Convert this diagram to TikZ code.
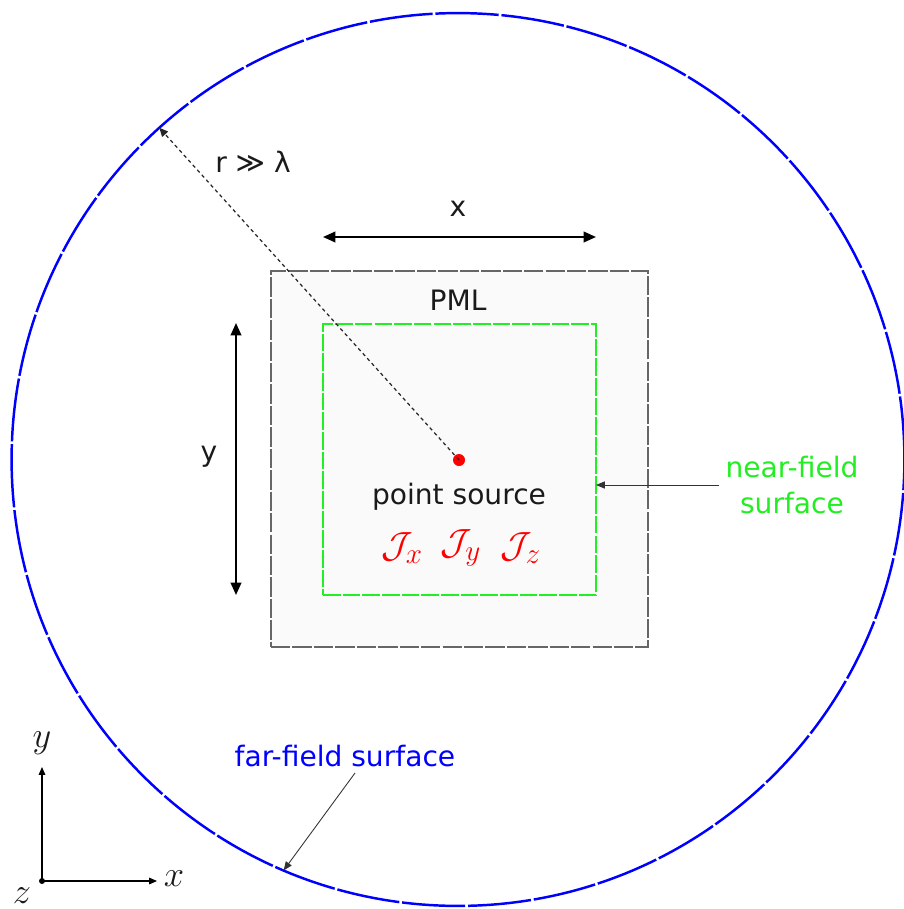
\documentclass[tikz,border=0pt]{standalone}
\usepackage{fontspec}
\setmainfont{DejaVu Sans}
\usepackage{amsmath,amssymb}
\usetikzlibrary{calc,positioning,arrows.meta}
\definecolor{ffblue}{HTML}{0000FF}
\definecolor{nfgreen}{HTML}{22EE22}
\definecolor{srcred}{HTML}{FF0000}
\definecolor{pmlgray}{HTML}{666666}
\definecolor{pmlfill}{HTML}{FAFAFA}
\definecolor{txt}{HTML}{1A1A1A}
\newcommand{\Jcomp}[1]{\mathcal{J}_{\scalebox{0.8}{$#1$}}}

\begin{document}
\begin{tikzpicture}[
      x=0.02cm, y=-0.02cm,
      every node/.style={font=\fontsize{16}{20}\selectfont, text=txt},
      farfield/.style={
        circle, draw=ffblue, line width=1.4pt,
        dash pattern=on 36pt off 1.6pt,
        minimum size=17.86cm, inner sep=0pt, outer sep=0pt
      },
      pml/.style={
        rectangle, draw=pmlgray, fill=pmlfill, line width=1.2pt,
        dash pattern=on 11pt off 1.2pt,
        minimum width=7.54cm, minimum height=7.52cm,
        inner sep=0pt, outer sep=0pt
      },
      nearfield/.style={
        rectangle, draw=nfgreen, line width=0.9pt,
        dash pattern=on 10pt off 1.2pt,
        minimum width=5.46cm, minimum height=5.42cm,
        inner sep=0pt, outer sep=0pt
      },
      srcdot/.style={circle, fill=srcred, minimum size=0.24cm, inner sep=0pt},
      odot/.style={circle, fill=black, minimum size=0.12cm, inner sep=0pt},
      jlabel/.style={text=srcred, font=\fontsize{21}{24}\selectfont, inner sep=1pt},
      dim/.style={{Triangle[length=7pt,width=6pt]}-{Triangle[length=7pt,width=6pt]}, line width=1.1pt},
      pointer/.style={-{Triangle[length=5pt,width=4pt]}, line width=0.5pt, draw=black!80},
      rline/.style={-{Triangle[length=5pt,width=4.5pt]}, line width=0.7pt, dash pattern=on 2pt off 1.8pt, draw=black!85},
      axis/.style={-{Triangle[length=4.5pt,width=3.8pt]}, line width=0.6pt},
      axlabel/.style={font=\fontsize{22}{24}\selectfont, inner sep=0pt}
    ]
      \useasboundingbox (0,0) rectangle (903,909);

      % surfaces
      \node[farfield] (ff) at (458,459.5) {};
      \node[pml] (pml) at (459.5,459) {};
      \node[nearfield] (nf) at (459.5,459.5) {};
      \node (pmlt) at (458,300) {PML};

      % box dimensions
      \coordinate (xa) at (323,237);
      \coordinate (xb) at (596,237);
      \draw[dim] (xa) -- (xb);
      \node (xt) at (458,209) {x};
      \coordinate (ya) at (236,323);
      \coordinate (yb) at (236,595);
      \draw[dim] (ya) -- (yb);
      \node (yt) at (209,457) {y};

      % source
      \node[srcdot] (src) at (459,460) {};
      \node (srct) at (459,497) {point source};
      \node[jlabel] (jx) at (402,548) {$\Jcomp{x}$};
      \node[jlabel] (jy) at (461,548) {$\Jcomp{y}$};
      \node[jlabel] (jz) at (521,548) {$\Jcomp{z}$};
      \draw[rline] (src.center) -- (ff.132.4);
      \node (rt) at (253,162) {r ≫ λ};

      % labels
      \node[text=nfgreen, align=center] (nft) at (792,485) {near-field\\surface};
      \draw[pointer] (nft.west) -- (nft.west -| nf.east);
      \node[text=ffblue] (fft) at (345,756) {far-field surface};
      \coordinate (fftail) at (355,773);
      \draw[pointer] (fftail) -- (ff.247);

      % axes
      \node[odot] (o) at (42,881) {};
      \coordinate (xend) at (157,881);
      \coordinate (yend) at (42,767);
      \draw[axis] (o.center) -- (xend);
      \draw[axis] (o.center) -- (yend);
      \node[axlabel] (xl) at (174,879) {$x$};
      \node[axlabel] (yl) at (42,743) {$y$};
      \node[axlabel] (zl) at (22,896) {$z$};
    \end{tikzpicture}
\end{document}
